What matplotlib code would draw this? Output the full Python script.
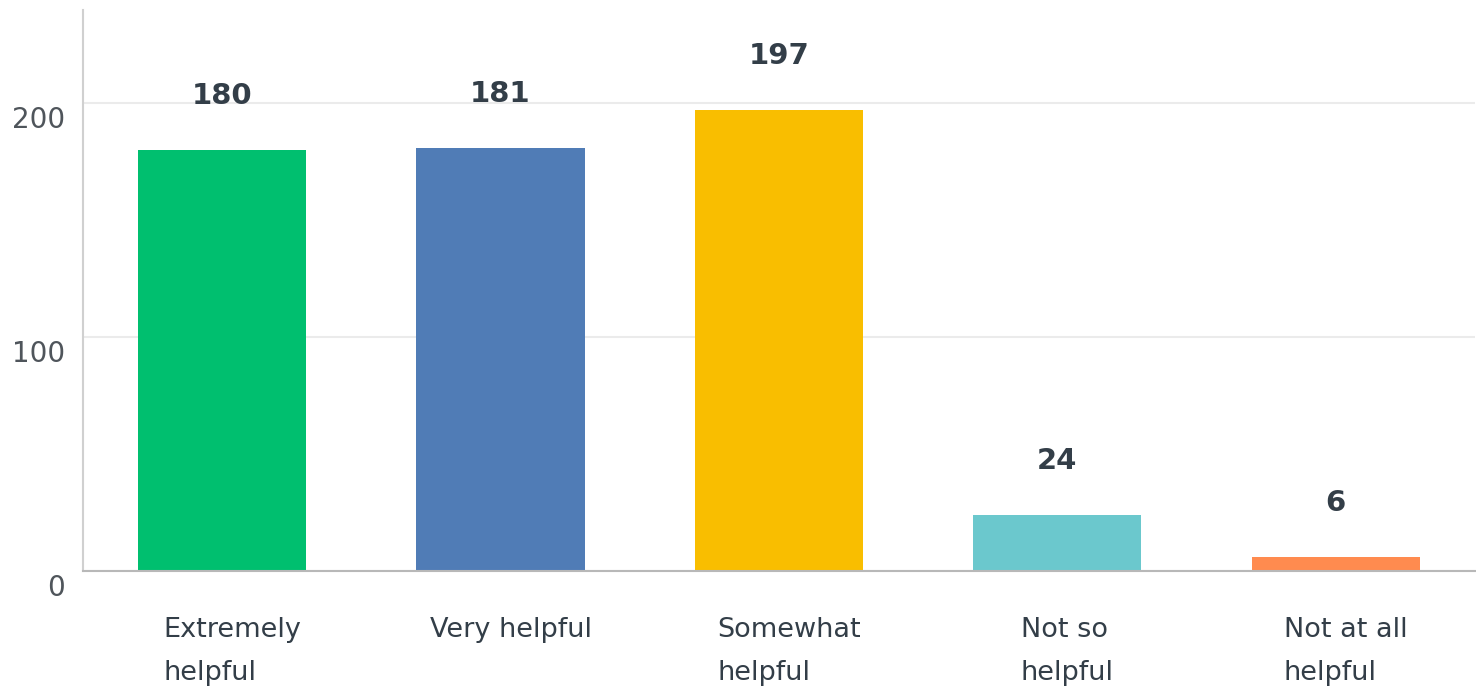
import matplotlib
matplotlib.use("Agg")
import matplotlib.pyplot as plt
import matplotlib.transforms as mtransforms

categories = ["Extremely\nhelpful", "Very helpful", "Somewhat\nhelpful", "Not so\nhelpful", "Not at all\nhelpful"]
counts = [180, 181, 197, 24, 6]
colors = ["#00bf6f", "#507cb6", "#f9be00", "#6bc8cd", "#ff8b4f"]
yticks = [0, 100, 200]

plt.rcParams["font.family"] = "DejaVu Sans"

fig = plt.figure(figsize=(14.76, 6.87), dpi=100)
ax = fig.add_axes([0.0562, 0.169, 0.943, 0.8165])

x = range(len(categories))
bars = ax.bar(x, counts, width=0.604, color=colors, zorder=3)

ax.set_ylim(0, 240)
ax.set_xlim(-0.5, len(categories) - 0.5)

# value labels sit a fixed distance above each bar
for b, v in zip(bars, counts):
    ax.annotate(str(v), (b.get_x() + b.get_width() / 2, v), xytext=(0, 39),
                textcoords="offset points", ha="center", va="center",
                fontsize=21, fontweight="bold", color="#333e48")

ax.set_yticks(yticks)
ax.set_yticklabels([str(t) for t in yticks], fontsize=20, color="#4f555b")
ax.tick_params(axis="y", length=0, pad=13)
shift_y = mtransforms.ScaledTranslation(0, -14 / 100, fig.dpi_scale_trans)
for lab in ax.get_yticklabels():
    lab.set_transform(lab.get_transform() + shift_y)

ax.set_xticks(list(x))
ax.set_xticklabels(categories, fontsize=19.5, color="#333e48", linespacing=1.85,
                   multialignment="left")
ax.tick_params(axis="x", length=0, pad=33)
shift_x = mtransforms.ScaledTranslation(10 / 100, 0, fig.dpi_scale_trans)
for lab in ax.get_xticklabels():
    lab.set_transform(lab.get_transform() + shift_x)
    lab.set_verticalalignment("top")

ax.grid(axis="y", color="#ebebeb", linewidth=1.5, zorder=0)
ax.spines["top"].set_visible(False)
ax.spines["right"].set_visible(False)
ax.spines["left"].set_color("#d0d0d0")
ax.spines["left"].set_linewidth(1.5)
ax.spines["bottom"].set_color("#b8b8b8")
ax.spines["bottom"].set_linewidth(1.5)
ax.spines["bottom"].set_zorder(4)

fig.savefig("out.png", dpi=100)
